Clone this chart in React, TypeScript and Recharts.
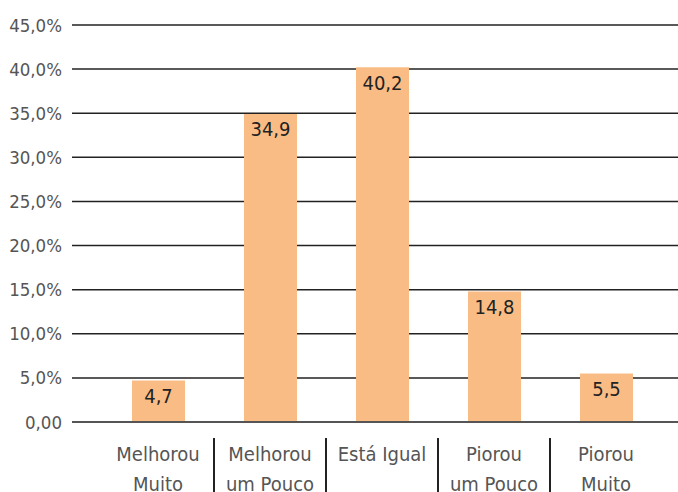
import React from "react";
import { Bar, BarChart, CartesianGrid, LabelList, XAxis, YAxis } from "recharts";

const categories = ["Melhorou\nMuito", "Melhorou\num Pouco", "Está Igual", "Piorou\num Pouco", "Piorou\nMuito"];
const percentages = [4.7, 34.9, 40.2, 14.8, 5.5];
const yTicks = [0, 5, 10, 15, 20, 25, 30, 35, 40, 45];

const FONT = "'DejaVu Sans Condensed', 'Liberation Sans Narrow', Arial, sans-serif";
const BAR_COLOR = "#F9BC85";

const data = categories.map((name, i) => ({ name, value: percentages[i] }));

const fmtTick = (v: number) => (v === 0 ? "0,00" : v.toFixed(1).replace(".", ",") + "%");
const fmtLabel = (v: any) => Number(v).toFixed(1).replace(".", ",");

// band width = (plot width - x padding) / number of categories
const BAND = (606 - 46) / categories.length;

function CategoryTick(props: any) {
  const { x, y, payload, index } = props;
  const lines = String(payload.value).split("\n");
  return (
    <g>
      {index > 0 && (
        <line x1={x - BAND / 2} x2={x - BAND / 2} y1={y + 8} y2={y + 70} stroke="#222" strokeWidth={2} />
      )}
      {lines.map((line: string, i: number) => (
        <text
          key={i}
          x={x}
          y={y + 25 + i * 30}
          textAnchor="middle"
          fill="#555"
          fontSize={20}
          fontFamily={FONT}
          dominantBaseline="middle"
        >
          {line}
        </text>
      ))}
    </g>
  );
}

export default function App() {
  return (
    <div style={{ position: "absolute", left: 0, top: 0, background: "#fff" }}>
      <BarChart width={678} height={492} data={data} margin={{ top: 25, right: 0, bottom: 0, left: 0 }}>
        <CartesianGrid vertical={false} stroke="#222" strokeWidth={1.5} />
        <XAxis
          dataKey="name"
          height={70}
          padding={{ left: 30, right: 16 }}
          tickLine={false}
          axisLine={{ stroke: "#555", strokeWidth: 2 }}
          tick={<CategoryTick />}
          interval={0}
        />
        <YAxis
          width={72}
          domain={[0, 45]}
          ticks={yTicks}
          tickFormatter={fmtTick}
          axisLine={false}
          tickLine={false}
          tickMargin={4}
          tick={{ fill: "#555", fontSize: 18.5, fontFamily: FONT }}
        />
        <Bar dataKey="value" fill={BAR_COLOR} barSize={53} isAnimationActive={false}>
          <LabelList
            dataKey="value"
            position="insideTop"
            offset={8}
            formatter={fmtLabel}
            fill="#222"
            fontSize={20}
            fontFamily={FONT}
          />
        </Bar>
      </BarChart>
    </div>
  );
}
